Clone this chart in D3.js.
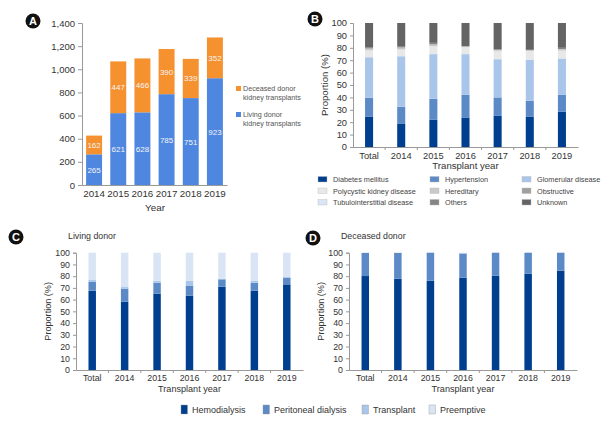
<!DOCTYPE html>
<html>
<head>
<meta charset="utf-8">
<script src="https://cdn.jsdelivr.net/npm/d3@7"></script>
<style>
  body { margin: 0; background: #fff; }
  svg { font-family: "Liberation Sans", Arial, sans-serif; }
</style>
</head>
<body>
<svg width="611" height="424"></svg>
<script>
// panel A data
const years = ["2014", "2015", "2016", "2017", "2018", "2019"]
const living = [265, 621, 628, 785, 751, 923]
const deceased = [162, 447, 466, 390, 339, 352]

// panel B data (% by cause, stacked bottom to top)
const cats = ["Total", "2014", "2015", "2016", "2017", "2018", "2019"]
const causes = ["Diabetes mellitus", "Hypertension", "Glomerular disease",
  "Polycystic kidney disease", "Hereditary", "Obstructive",
  "Tubulointerstitial disease", "Others", "Unknown"]
const diabetes = [24.3, 18.6, 21.9, 23.8, 25.1, 24.3, 28.4]
const hypertension = [15.4, 13.8, 17.0, 18.4, 14.9, 13.0, 13.8]
const glomerular = [32.7, 40.8, 36.0, 32.7, 30.8, 33.2, 29.2]
const polycystic = [5.5, 5.4, 6.3, 5.6, 6.3, 6.9, 6.3]
const hereditary = [0.8, 0.8, 0.9, 0.3, 0.6, 0.4, 0.7]
const obstructive = [0.3, 0.4, 0.3, 0.2, 0.3, 0.2, 0.3]
const tubulo = [0.4, 0.4, 0.3, 0.1, 0.3, 0.1, 0.2]
const others = [1.1, 1.2, 1.3, 0.3, 0.6, 0.3, 1.1]
const unknown = [19.5, 18.6, 16.0, 18.6, 21.1, 21.6, 20.0]

// panels C/D data (% by modality before transplant)
const modalities = ["Hemodialysis", "Peritoneal dialysis", "Transplant", "Preemptive"]
const livingHD = [67.6, 58.2, 65.1, 63.4, 71.0, 67.6, 73.0]
const livingPD = [7.7, 11.1, 9.3, 8.2, 6.3, 6.8, 5.7]
const livingTx = [1.4, 1.4, 1.7, 4.3, 0.5, 1.5, 0.6]
const livingPre = [23.3, 29.3, 23.9, 24.1, 22.2, 24.1, 20.7]
const deceasedHD = [80.1, 77.8, 76.1, 78.7, 80.4, 82.1, 84.7]
const deceasedPD = [19.7, 22.0, 23.9, 20.7, 19.6, 17.9, 15.3]
const deceasedTx = [0.1, 0.1, 0, 0, 0, 0, 0]
const deceasedPre = [0.1, 0.1, 0, 0.6, 0, 0, 0]

const causeColors = ["#003f8f", "#5b8ac6", "#a9c6ea", "#e8e8e8", "#c9c9c9",
  "#a0a0a0", "#dae6f5", "#858585", "#646464"]
const modeColors = ["#003f8f", "#5b8ac6", "#a9c6ea", "#d9e5f4"]

const svg = d3.select("svg")
const axisColor = "#999"
const textColor = "#333"

function badge(x, y, letter) {
  svg.append("circle").attr("cx", x).attr("cy", y).attr("r", 7.5).attr("fill", "#111")
  svg.append("text").attr("x", x).attr("y", y + 4)
    .attr("text-anchor", "middle").attr("fill", "#fff")
    .attr("font-size", 11).attr("font-weight", "bold").text(letter)
}

function styleAxis(g, size) {
  g.selectAll("path, line").attr("stroke", axisColor)
  g.selectAll("text").attr("fill", textColor).attr("font-size", size)
  g.attr("font-family", null)
}

// ---------- panel A ----------
const xA = d3.scaleBand().domain(years).range([82, 227]).paddingInner(0.34).paddingOuter(0.17)
const yA = d3.scaleLinear().domain([0, 1400]).range([185, 23])

const gA = svg.append("g")
years.forEach((yr, i) => {
  const segs = [
    { v0: 0, v1: living[i], c: "#4f87e0", label: living[i] },
    { v0: living[i], v1: living[i] + deceased[i], c: "#f6912f", label: deceased[i] }
  ]
  segs.forEach(s => {
    gA.append("rect")
      .attr("x", xA(yr)).attr("width", xA.bandwidth())
      .attr("y", yA(s.v1)).attr("height", yA(s.v0) - yA(s.v1))
      .attr("fill", s.c)
    gA.append("text")
      .attr("x", xA(yr) + xA.bandwidth() / 2)
      .attr("y", (yA(s.v0) + yA(s.v1)) / 2 + 3)
      .attr("text-anchor", "middle").attr("fill", "#f4f4f4")
      .attr("font-size", 8).text(s.label)
  })
})

svg.append("g").attr("transform", "translate(82,0)")
  .call(d3.axisLeft(yA).tickValues(d3.range(0, 1401, 200)).tickSize(4).tickFormat(d3.format(",")))
  .call(g => styleAxis(g, 9.5))
svg.append("g").attr("transform", "translate(0,185)")
  .call(d3.axisBottom(xA).tickSize(0).tickPadding(5))
  .call(g => styleAxis(g, 9.8))
svg.append("text").attr("x", 155).attr("y", 211).attr("text-anchor", "middle")
  .attr("fill", textColor).attr("font-size", 9.8).text("Year")

const legA = [
  { c: "#f6912f", lines: ["Deceased donor", "kidney transplants"], y: 91 },
  { c: "#4f87e0", lines: ["Living donor", "kidney transplants"], y: 117 }
]
legA.forEach(l => {
  svg.append("rect").attr("x", 236).attr("y", l.y - 5).attr("width", 5).attr("height", 5).attr("fill", l.c)
  l.lines.forEach((t, j) => {
    svg.append("text").attr("x", 243).attr("y", l.y + j * 8.5)
      .attr("fill", "#555").attr("font-size", 7.2).text(t)
  })
})
badge(33, 21, "A")

// ---------- stacked percent panels ----------
function percentPanel(opt) {
  const x = d3.scaleBand().domain(cats).range([opt.x0, opt.x1])
    .paddingInner(opt.pad).paddingOuter(opt.pad / 2)
  const y = d3.scaleLinear().domain([0, 100]).range([opt.yBottom, opt.yTop])

  const rows = cats.map((c, i) => {
    const r = { cat: c }
    opt.keys.forEach((k, j) => { r[k] = opt.series[j][i] })
    return r
  })
  const stacked = d3.stack().keys(opt.keys)(rows)

  svg.append("g").selectAll("g").data(stacked).join("g")
    .attr("fill", (d, i) => opt.colors[i])
    .selectAll("rect").data(d => d).join("rect")
    .attr("x", d => x(d.data.cat))
    .attr("width", x.bandwidth())
    .attr("y", d => y(d[1]))
    .attr("height", d => y(d[0]) - y(d[1]))

  svg.append("g").attr("transform", `translate(${opt.x0},0)`)
    .call(d3.axisLeft(y).tickValues(d3.range(0, 101, 10)).tickSize(3).tickPadding(3))
    .call(g => styleAxis(g, opt.font))

  const xg = svg.append("g").attr("transform", `translate(0,${opt.yBottom})`)
    .call(d3.axisBottom(x).tickSize(0).tickPadding(5))
    .call(g => styleAxis(g, opt.font))
  // tick marks between categories
  xg.selectAll(".sep").data(cats.slice(1)).join("line")
    .attr("x1", d => x(d) - x.step() * x.paddingInner() / 2)
    .attr("x2", d => x(d) - x.step() * x.paddingInner() / 2)
    .attr("y1", 0).attr("y2", 3).attr("stroke", axisColor)

  svg.append("text").attr("x", (opt.x0 + opt.x1) / 2).attr("y", opt.yBottom + 22)
    .attr("text-anchor", "middle").attr("fill", textColor)
    .attr("font-size", opt.font + 0.3).text("Transplant year")
  svg.append("text")
    .attr("transform", `translate(${opt.x0 - 25},${(opt.yTop + opt.yBottom) / 2}) rotate(-90)`)
    .attr("text-anchor", "middle").attr("fill", textColor)
    .attr("font-size", opt.font + 0.3).text("Proportion (%)")
}

// ---------- panel B ----------
percentPanel({
  x0: 353, x1: 578, yTop: 23, yBottom: 147, pad: 0.75, font: 9.3,
  keys: causes,
  series: [diabetes, hypertension, glomerular, polycystic, hereditary, obstructive, tubulo, others, unknown],
  colors: causeColors
})
badge(315, 19, "B")

const legBx = [318, 430, 522]
causes.forEach((c, i) => {
  const col = i % 3, row = Math.floor(i / 3)
  const yy = 180 + row * 11.5
  svg.append("rect").attr("x", legBx[col]).attr("y", yy - 3.5).attr("width", 9).attr("height", 5.5)
    .attr("fill", causeColors[i]).attr("stroke", "#bbb").attr("stroke-width", 0.4)
  svg.append("text").attr("x", legBx[col] + 15).attr("y", yy + 2)
    .attr("fill", "#444").attr("font-size", 7.3).text(c)
})

// ---------- panel C ----------
percentPanel({
  x0: 76, x1: 303, yTop: 252.7, yBottom: 370, pad: 0.77, font: 8.8,
  keys: modalities,
  series: [livingHD, livingPD, livingTx, livingPre],
  colors: modeColors
})
badge(16, 237, "C")
svg.append("text").attr("x", 68).attr("y", 239).attr("fill", textColor)
  .attr("font-size", 8.8).text("Living donor")

// ---------- panel D ----------
percentPanel({
  x0: 349, x1: 577, yTop: 252.7, yBottom: 370, pad: 0.77, font: 8.8,
  keys: modalities,
  series: [deceasedHD, deceasedPD, deceasedTx, deceasedPre],
  colors: modeColors
})
badge(313, 238, "D")
svg.append("text").attr("x", 341).attr("y", 239).attr("fill", textColor)
  .attr("font-size", 8.8).text("Deceased donor")

// ---------- bottom legend ----------
const legCx = [181, 263, 362, 429]
modalities.forEach((m, i) => {
  svg.append("rect").attr("x", legCx[i]).attr("y", 405).attr("width", 6.5).attr("height", 9)
    .attr("fill", modeColors[i]).attr("stroke", "#999").attr("stroke-width", 0.4)
  svg.append("text").attr("x", legCx[i] + 11).attr("y", 413)
    .attr("fill", textColor).attr("font-size", 9).text(m)
})
</script>
</body>
</html>
